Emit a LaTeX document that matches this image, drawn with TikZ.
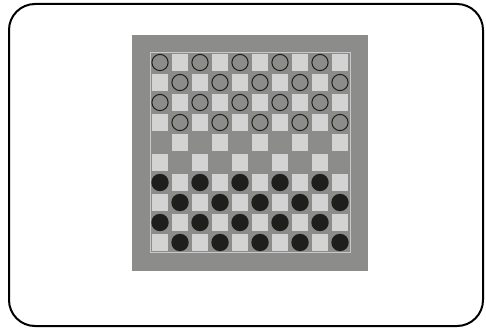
\documentclass[tikz,border=0pt]{standalone}
\usepackage{tikz}

\definecolor{boardgray}{RGB}{140,140,138}
\definecolor{lightsq}{RGB}{211,211,211}
\definecolor{darkman}{RGB}{30,30,28}
\definecolor{boardline}{RGB}{200,200,200}

\begin{document}
\begin{tikzpicture}[x=1pt, y=-1pt]

% Dimensions of the board
\def\X{150}   % left edge of the squares
\def\Y{52.5}  % top edge of the squares
\def\C{20}    % size of one square
\def\S{8.3}   % half side of a light square
\def\R{8.1}   % radius of a man

\useasboundingbox (0,0) rectangle (486,328);

% Frame
\draw[line width=2pt, rounded corners=26pt] (9,4) rectangle (483,326);

% Board
\fill[boardgray] (132,35) rectangle (368,271);
\draw[boardline, line width=0.6pt] (\X,\Y) rectangle (\X+10*\C,\Y+10*\C);

% Light squares
\foreach \r in {0,...,9}
  \foreach \c in {0,...,9} {
    \pgfmathparse{int(mod(\r+\c,2))}
    \ifnum\pgfmathresult=1
      \fill[lightsq] (\X+\c*\C+\C/2-\S,\Y+\r*\C+\C/2-\S) rectangle ++(2*\S,2*\S);
    \fi
  }

% White men (rows 0-3)
\foreach \r in {0,...,3}
  \foreach \c in {0,...,9} {
    \pgfmathparse{int(mod(\r+\c,2))}
    \ifnum\pgfmathresult=0
      \draw[darkman, line width=1pt] (\X+\c*\C+\C/2,\Y+\r*\C+\C/2) circle (\R);
    \fi
  }

% Black men (rows 6-9)
\foreach \r in {6,...,9}
  \foreach \c in {0,...,9} {
    \pgfmathparse{int(mod(\r+\c,2))}
    \ifnum\pgfmathresult=0
      \fill[darkman] (\X+\c*\C+\C/2,\Y+\r*\C+\C/2) circle (\R+0.6);
    \fi
  }

\end{tikzpicture}
\end{document}
